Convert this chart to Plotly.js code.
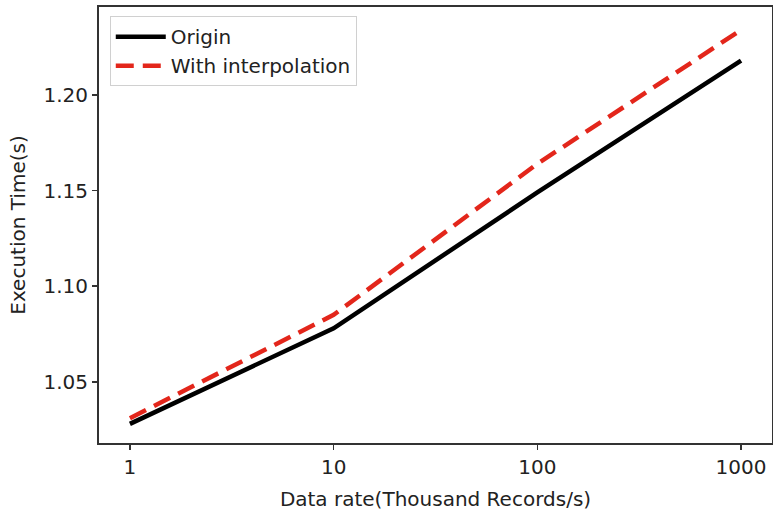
<!DOCTYPE html>
<html>
<head>
<meta charset="utf-8">
<script src="https://cdn.plot.ly/plotly-3.0.1.min.js"></script>
<style>html,body{margin:0;padding:0;background:#fff;}#chart{width:773px;height:519px;}</style>
</head>
<body>
<div id="chart"></div>
<script>
const dataRates = [1, 10, 100, 1000];
const tickLabels = ['1', '10', '100', '1000'];
const originTimes = [1.028, 1.078, 1.149, 1.218];
const interpTimes = [1.031, 1.085, 1.164, 1.234];
const yTicks = [1.05, 1.10, 1.15, 1.20];
const yTickLabels = ['1.05', '1.10', '1.15', '1.20'];

const font = 'DejaVu Sans, sans-serif';
const fs = 20;

const traces = [
  {
    x: dataRates, y: originTimes, name: 'Origin', type: 'scatter', mode: 'lines',
    line: {color: '#000000', width: 4.5}
  },
  {
    x: dataRates, y: interpTimes, name: 'With interpolation', type: 'scatter', mode: 'lines',
    line: {color: '#e3261b', width: 4.5, dash: '18px,9px'}
  }
];

const layout = {
  width: 773, height: 519,
  margin: {l: 99, r: 1, t: 7, b: 76},
  paper_bgcolor: '#ffffff', plot_bgcolor: '#ffffff',
  font: {family: font, size: fs, color: '#222'},
  showlegend: true,
  legend: {
    x: 0.016, y: 0.979, xanchor: 'left', yanchor: 'top',
    bgcolor: 'rgba(255,255,255,0.9)', bordercolor: '#d0d0d0', borderwidth: 1,
    itemwidth: 50,
    font: {family: font, size: fs, color: '#222'}
  },
  xaxis: {
    type: 'log',
    range: [Math.log10(0.705), Math.log10(1419)],
    tickvals: dataRates, ticktext: tickLabels,
    ticks: 'outside', ticklen: 5, tickwidth: 1.5, tickcolor: '#333',
    showline: true, linecolor: '#333', linewidth: 2, mirror: true,
    showgrid: false, zeroline: false,
    tickfont: {family: font, size: fs, color: '#222'},
    title: {text: 'Data rate(Thousand Records/s)', font: {family: font, size: fs, color: '#222'}, standoff: 14}
  },
  yaxis: {
    range: [1.018, 1.246],
    tickvals: yTicks, ticktext: yTickLabels,
    ticks: 'outside', ticklen: 5, tickwidth: 1.5, tickcolor: '#333',
    showline: true, linecolor: '#333', linewidth: 2, mirror: true,
    showgrid: false, zeroline: false,
    tickfont: {family: font, size: fs, color: '#222'},
    title: {text: 'Execution Time(s)', font: {family: font, size: fs, color: '#222'}, standoff: 12}
  }
};

Plotly.newPlot('chart', traces, layout, {displayModeBar: false, staticPlot: true});
</script>
</body>
</html>
